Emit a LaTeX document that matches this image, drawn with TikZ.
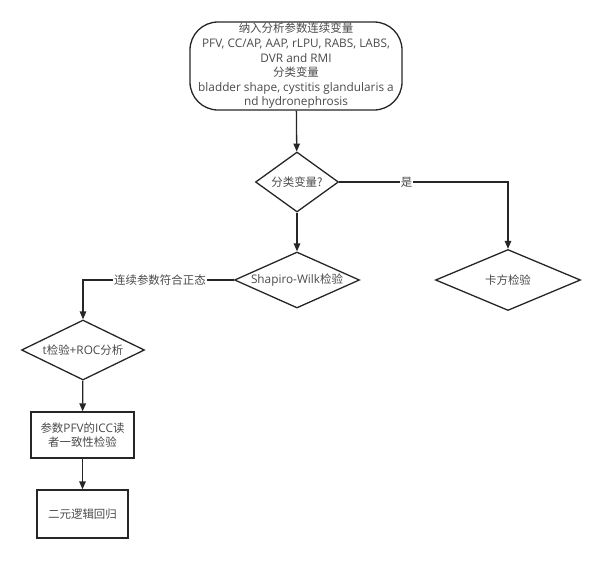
\documentclass[tikz,border=0pt]{standalone}
\usepackage{fontspec}
\setmainfont{Open Sans}
\newfontfamily\cjk[Scale=0.97]{Noto Sans CJK SC}
\usepackage{tikz}
\usetikzlibrary{shapes.geometric,arrows.meta}
\definecolor{linegray}{HTML}{262626}
\definecolor{textgray}{HTML}{4A4A4A}
\tikzset{
  decision/.style={diamond,draw=linegray,line width=1.3pt,inner sep=0pt,text=textgray},
  process/.style={rectangle,draw=linegray,line width=1.3pt,align=center,text=textgray},
  arr/.style={-{Triangle[length=8pt,width=6.5pt]},draw=linegray,line width=1.3pt},
  lab/.style={fill=white,inner sep=1pt,text=textgray}
}
\newcommand{\nowidth}[1]{\makebox[0pt]{#1}}

\begin{document}
\begin{tikzpicture}[x=1pt,y=-1pt,font=\fontsize{11.8}{14.6}\selectfont]
  \useasboundingbox (0,0) rectangle (600,560);
  \node[process,rounded corners=28pt,minimum width=212pt,minimum height=88pt,inner sep=1pt] (input) at (296,66)
    {{\cjk 纳入分析参数连续变量}\\PFV, CC/AP, AAP, rLPU, RABS, LABS,\\DVR and RMI\\{\cjk 分类变量}\\bladder shape, cystitis glandularis a\\nd hydronephrosis};
  \node[decision,minimum width=83pt,minimum height=60pt] (cat) at (297,182) {\nowidth{\cjk 分类变量?}};
  \node[decision,minimum width=125pt,minimum height=56pt] (sw) at (297,280) {\nowidth{Shapiro-Wilk{\cjk 检验}}};
  \node[decision,minimum width=145pt,minimum height=61pt] (chi) at (508,280) {\nowidth{\cjk 卡方检验}};
  \node[decision,minimum width=123pt,minimum height=60pt] (troc) at (83,350) {\nowidth{t{\cjk 检验}+ROC{\cjk 分析}}};
  \node[process,minimum width=103pt,minimum height=46pt] (icc) at (82.5,435) {{\cjk 参数}PFV{\cjk 的}ICC{\cjk 读}\\{\cjk 者一致性检验}};
  \node[process,minimum width=91pt,minimum height=48pt] (logit) at (82.5,514) {\cjk 二元逻辑回归};
  \draw[arr] (input) -- (cat);
  \draw[arr] (cat) -| node[pos=0.2,lab] {\cjk 是} (chi);
  \draw[arr] (cat) -- (sw);
  \draw[arr] (sw) -| node[pos=0.245,lab] {\cjk 连续参数符合正态} (troc);
  \draw[arr] (troc) -- (icc);
  \draw[arr] (icc) -- (logit);
\end{tikzpicture}
\end{document}
